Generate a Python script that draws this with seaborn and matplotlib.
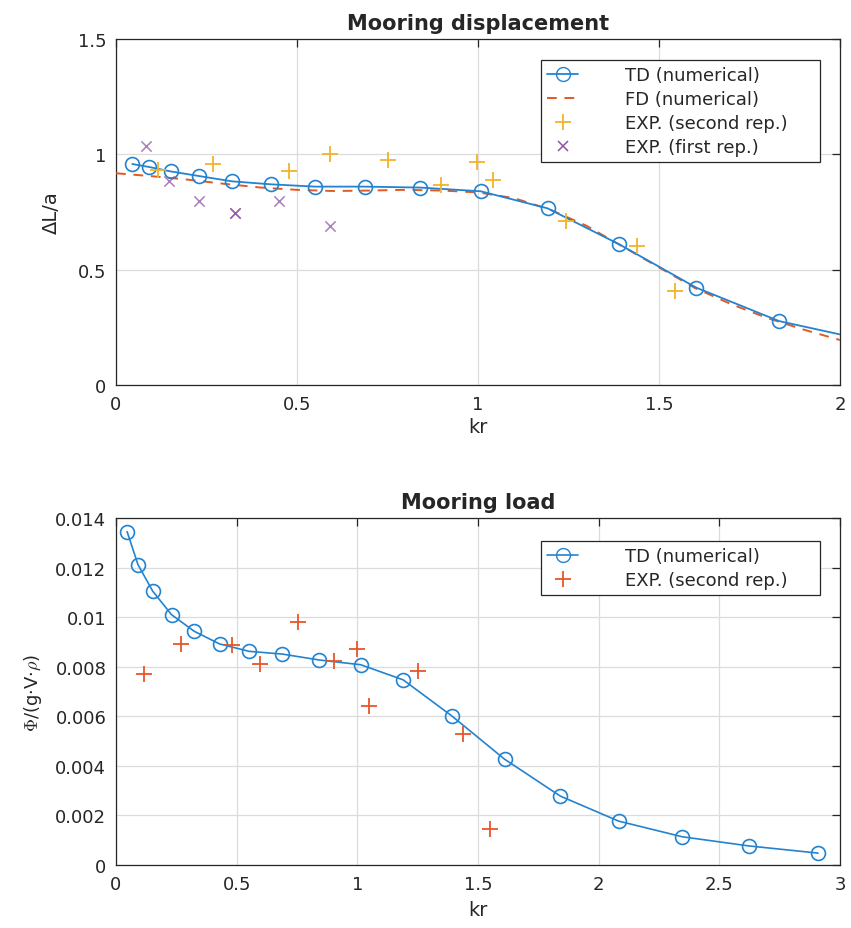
import numpy as np
import pandas as pd
import matplotlib
matplotlib.use("Agg")
import matplotlib.pyplot as plt
from matplotlib.ticker import FuncFormatter
from matplotlib.lines import Line2D
import seaborn as sns

# ---- Mooring displacement (top panel) ----
td_disp_kr = [0.045, 0.092, 0.151, 0.229, 0.32, 0.428, 0.55, 0.687, 0.839, 1.007,
              1.192, 1.39, 1.603, 1.832, 2.085]
td_disp_val = [0.958, 0.945, 0.926, 0.906, 0.883, 0.87, 0.86, 0.86, 0.856, 0.84,
               0.766, 0.61, 0.422, 0.277, 0.19]

fd_disp_kr = [0.0, 0.1, 0.2, 0.3, 0.4, 0.5, 0.6, 0.7, 0.8, 0.9, 1.0, 1.1, 1.2,
              1.3, 1.4, 1.5, 1.6, 1.7, 1.8, 1.9, 2.0]
fd_disp_val = [0.918, 0.905, 0.89, 0.872, 0.856, 0.846, 0.841, 0.843, 0.846, 0.843,
               0.835, 0.81, 0.76, 0.69, 0.6, 0.51, 0.42, 0.35, 0.29, 0.24, 0.195]

exp2_disp_kr = [0.116, 0.268, 0.479, 0.591, 0.752, 0.897, 0.996, 1.041, 1.243, 1.438, 1.543]
exp2_disp_val = [0.932, 0.96, 0.928, 1.003, 0.974, 0.866, 0.968, 0.889, 0.711, 0.603, 0.407]

exp1_disp_kr = [0.082, 0.147, 0.229, 0.328, 0.328, 0.451, 0.59]
exp1_disp_val = [1.036, 0.884, 0.799, 0.747, 0.747, 0.799, 0.689]

# ---- Mooring load (bottom panel) ----
td_load_kr = [0.046, 0.091, 0.152, 0.23, 0.324, 0.429, 0.552, 0.689, 0.843, 1.014,
              1.19, 1.392, 1.61, 1.841, 2.083, 2.346, 2.622, 2.909]
td_load_val = [0.01345, 0.01212, 0.01105, 0.0101, 0.00943, 0.00892, 0.00862, 0.00851,
               0.00827, 0.00808, 0.00747, 0.00601, 0.00427, 0.00278, 0.00177, 0.00114,
               0.00077, 0.00048]

exp2_load_kr = [0.114, 0.268, 0.481, 0.597, 0.754, 0.902, 1.0, 1.047, 1.252, 1.438, 1.55]
exp2_load_val = [0.00769, 0.00893, 0.00886, 0.00809, 0.00981, 0.00822, 0.0087, 0.0064,
                 0.00783, 0.00527, 0.00145]

C_BLUE = "#2383d0"
C_ORANGE = "#e05a24"
C_YELLOW = "#f2b32a"
C_PURPLE = "#9050a4"
C_RED = "#e8552a"
C_AX = "#262626"

sns.set_style("whitegrid")
plt.rcParams["font.family"] = ["DejaVu Sans"]
plt.rcParams["mathtext.fontset"] = "cm"

fig = plt.figure(figsize=(8.51, 9.29), dpi=100)
ax1 = fig.add_axes([116 / 851, (929 - 386) / 929, 724 / 851, 346 / 929])
ax2 = fig.add_axes([116 / 851, (929 - 866) / 929, 724 / 851, 347 / 929])

fmt = FuncFormatter(lambda v, p: f"{v:g}")


def style_axes(ax):
    ax.set_facecolor("white")
    ax.grid(True, color="#dcdcdc", linewidth=0.9)
    for sp in ax.spines.values():
        sp.set_visible(True)
        sp.set_color(C_AX)
        sp.set_linewidth(0.9)
    ax.tick_params(direction="in", length=6, width=0.9, color=C_AX,
                   top=True, right=True, labelsize=13, labelcolor=C_AX, pad=7)
    ax.xaxis.set_major_formatter(fmt)
    ax.yaxis.set_major_formatter(fmt)


def add_legend(ax, handles, labels, top):
    leg = ax.legend(handles, labels, loc="upper left",
                    bbox_to_anchor=(0.587, 0.0, 0.386, top), mode="expand",
                    borderaxespad=0, fontsize=13, handlelength=1.7,
                    handletextpad=2.6, fancybox=False, framealpha=1,
                    edgecolor=C_AX, labelspacing=0.33, borderpad=0.35)
    leg.get_frame().set_linewidth(0.9)
    return leg


# top panel
d_td = pd.DataFrame({"kr": td_disp_kr, "v": td_disp_val})
d_fd = pd.DataFrame({"kr": fd_disp_kr, "v": fd_disp_val})
d_e2 = pd.DataFrame({"kr": exp2_disp_kr, "v": exp2_disp_val})
d_e1 = pd.DataFrame({"kr": exp1_disp_kr, "v": exp1_disp_val})

sns.lineplot(data=d_fd, x="kr", y="v", ax=ax1, color=C_ORANGE, linewidth=1.4,
             dashes=False, linestyle=(0, (5, 4)), zorder=3)
sns.lineplot(data=d_td, x="kr", y="v", ax=ax1, color=C_BLUE, linewidth=1.3,
             marker="o", markersize=10, markerfacecolor="none",
             markeredgecolor=C_BLUE, markeredgewidth=1.2, zorder=4)
sns.scatterplot(data=d_e2, x="kr", y="v", ax=ax1, marker="+", s=130,
                color=C_YELLOW, linewidth=1.3, zorder=5)
sns.scatterplot(data=d_e1, x="kr", y="v", ax=ax1, marker="x", s=55,
                color=C_PURPLE, linewidth=1.1, zorder=5, alpha=0.75)

ax1.set_xlim(0, 2)
ax1.set_ylim(0, 1.5)
ax1.set_xticks([0, 0.5, 1, 1.5, 2])
ax1.set_yticks([0, 0.5, 1, 1.5])
style_axes(ax1)
ax1.set_xlabel("kr", fontsize=14, color=C_AX, labelpad=3)
ax1.set_ylabel("ΔL/a", fontsize=14, color=C_AX, labelpad=12)
ax1.set_title("Mooring displacement", fontsize=15, fontweight="bold", pad=7)

h1 = [
    Line2D([], [], color=C_BLUE, linewidth=1.3, marker="o", markersize=10,
           markerfacecolor="none", markeredgecolor=C_BLUE),
    Line2D([], [], color=C_ORANGE, linewidth=1.4, linestyle=(0, (5, 4))),
    Line2D([], [], color=C_YELLOW, linestyle="none", marker="+", markersize=11,
           markeredgewidth=1.3),
    Line2D([], [], color=C_PURPLE, linestyle="none", marker="x", markersize=7,
           markeredgewidth=1.1),
]
l1 = ["TD (numerical)", "FD (numerical)", "EXP. (second rep.)", "EXP. (first rep.)"]
add_legend(ax1, h1, l1, 0.94)

# bottom panel
b_td = pd.DataFrame({"kr": td_load_kr, "v": td_load_val})
b_e2 = pd.DataFrame({"kr": exp2_load_kr, "v": exp2_load_val})

sns.lineplot(data=b_td, x="kr", y="v", ax=ax2, color=C_BLUE, linewidth=1.2,
             marker="o", markersize=10, markerfacecolor="none",
             markeredgecolor=C_BLUE, markeredgewidth=1.2, zorder=4)
sns.scatterplot(data=b_e2, x="kr", y="v", ax=ax2, marker="+", s=130,
                color=C_RED, linewidth=1.3, zorder=5)

ax2.set_xlim(0, 3)
ax2.set_ylim(0, 0.014)
ax2.set_xticks([0, 0.5, 1, 1.5, 2, 2.5, 3])
ax2.set_yticks([0, 0.002, 0.004, 0.006, 0.008, 0.01, 0.012, 0.014])
style_axes(ax2)
ax2.set_xlabel("kr", fontsize=14, color=C_AX, labelpad=5)
ax2.set_ylabel(r"$\Phi$/(g·V·$\rho$)", fontsize=13, color=C_AX, labelpad=8)
ax2.set_title("Mooring load", fontsize=15, fontweight="bold", pad=7)

h2 = [
    Line2D([], [], color=C_BLUE, linewidth=1.2, marker="o", markersize=10,
           markerfacecolor="none", markeredgecolor=C_BLUE),
    Line2D([], [], color=C_RED, linestyle="none", marker="+", markersize=11,
           markeredgewidth=1.3),
]
l2 = ["TD (numerical)", "EXP. (second rep.)"]
add_legend(ax2, h2, l2, 0.935)

fig.savefig("out.png", dpi=100, facecolor="white")
